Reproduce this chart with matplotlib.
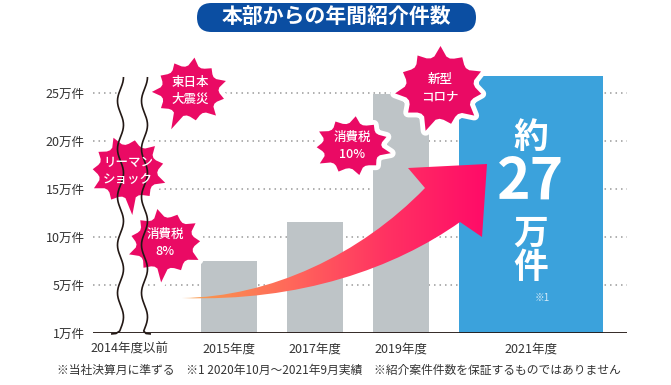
import numpy as np
import matplotlib
matplotlib.use("Agg")
import matplotlib.pyplot as plt
from matplotlib.patches import FancyBboxPatch, Polygon, PathPatch
from matplotlib.path import Path
from matplotlib.colors import LinearSegmentedColormap

plt.rcParams['font.family'] = ['Noto Sans CJK JP', 'DejaVu Sans']

# values in 万件
years = ["2015年度", "2017年度", "2019年度"]
counts = [7.5, 11.6, 24.9]
year_2021 = "2021年度"
count_2021 = 26.8
before_label = "2014年度以前"
ytick_vals = [0, 5, 10, 15, 20, 25]
ytick_labels = ["1万件", "5万件", "10万件", "15万件", "20万件", "25万件"]
events = ["東日本\n大震災", "リーマン\nショック", "消費税\n8%", "消費税\n10%", "新型\nコロナ"]
title = "本部からの年間紹介件数"
note = "※当社決算月に準ずる　※1 2020年10月〜2021年9月実績　※紹介案件件数を保証するものではありません"

GRAY = "#bec4c7"
BLUE = "#3ba2dc"
PINK = "#ea0a64"
NAVY = "#0b4ea2"
INK = "#231815"

W, H = 671, 385
fig = plt.figure(figsize=(W / 100, H / 100), dpi=100)

# main chart axes (pixel frame 93..627 x 45..333)
ax = fig.add_axes([93 / W, 1 - 333 / H, 534 / W, 288 / H])
ax.set_xlim(-0.581, 5.628)
ax.set_ylim(0, 30)
for s in ax.spines.values():
    s.set_visible(False)

ax.hlines(ytick_vals[1:], -0.581, 5.628, colors="#9a9a9a",
          linestyles=(0, (1, 2.6)), lw=1.1, zorder=0)
ax.bar([1, 2, 3], counts, width=0.65, color=GRAY, zorder=1)
ax.bar(4.51, count_2021, width=1.67, color=BLUE, zorder=1)
ax.axhline(0, color=INK, lw=1.3, zorder=2)

ax.set_yticks(ytick_vals, ytick_labels)
ax.set_xticks([-0.151, 1, 2, 3, 4.51], [before_label] + years + [year_2021])
ax.tick_params(axis="y", length=0, pad=6, labelsize=9, labelcolor="#333333")
ax.tick_params(axis="x", length=0, pad=7, labelsize=9, labelcolor="#333333")

# big label in the 2021 bar
ax.text(4.51, 20.4, "約", ha="center", va="center", fontsize=25,
        fontweight="bold", color="white", zorder=3)
ax.text(4.51, 15.7, "27", ha="center", va="center", fontsize=41,
        fontweight="bold", color="white", zorder=3)
ax.text(4.51, 10.4, "万", ha="center", va="center", fontsize=25,
        fontweight="bold", color="white", zorder=3)
ax.text(4.51, 6.8, "件", ha="center", va="center", fontsize=25,
        fontweight="bold", color="white", zorder=3)
ax.text(4.64, 3.6, "※1", ha="center", va="center", fontsize=7,
        color="#d6ebf8", zorder=3)

# overlay in pixel units for the decorations
ov = fig.add_axes([0, 0, 1, 1])
ov.patch.set_alpha(0)
ov.axis("off")

# title pill
ov.add_patch(FancyBboxPatch((197, 3), 279, 29,
                            boxstyle="round,pad=0,rounding_size=14.5",
                            fc=NAVY, ec="none"))
ov.text(336.5, 17.5, title, ha="center", va="center", fontsize=15,
        fontweight="bold", color="white")

# broken-axis wavy lines
yy = np.linspace(77, 331, 300)
xl = 120.5 + 3 * np.cos(2 * np.pi * (yy - 77) / 48)
xr = xl + 24
ov.fill_betweenx(yy, xl - 0.5, xr + 0.5, color="white", lw=0)
ov.plot(np.r_[xl, 116, 111], np.r_[yy, 333.5, 334], color=INK, lw=1.2,
        solid_capstyle="butt")
ov.plot(np.r_[xr, 146, 151], np.r_[yy, 333.5, 334], color=INK, lw=1.2,
        solid_capstyle="butt")

# growth arrow with gradient
verts = [(182, 298), (270, 297), (360, 255), (425, 188),
         (408, 168), (487, 164), (482, 237), (460, 222),
         (395, 268), (300, 302), (182, 298), (182, 298)]
codes = [Path.MOVETO, Path.CURVE4, Path.CURVE4, Path.CURVE4,
         Path.LINETO, Path.LINETO, Path.LINETO, Path.LINETO,
         Path.CURVE4, Path.CURVE4, Path.CURVE4, Path.CLOSEPOLY]
arrow = PathPatch(Path(verts, codes), fc="none", ec="none")
ov.add_patch(arrow)
cmap = LinearSegmentedColormap.from_list(
    "grow", ["#f8a04c", "#ff6b5a", "#ff3262", "#ff0a68"])
grad = np.linspace(0, 1, 256).reshape(1, -1)
im = ov.imshow(grad, extent=(182, 488, 303, 160), cmap=cmap,
               aspect="auto", interpolation="bicubic")
im.set_clip_path(arrow)


# event bursts
def burst(cx, cy, rx, ry, tail_deg, tail_k, n=11):
    jit = [1.0, 0.93, 1.04, 0.95, 1.02, 0.92, 1.05, 0.96, 0.93, 1.03, 0.95]
    pts = []
    ph = np.radians(tail_deg)
    for i in range(n):
        a = ph + 2 * np.pi * i / n
        k = tail_k if i == 0 else jit[i % len(jit)]
        pts.append((cx + rx * k * np.cos(a), cy - ry * k * np.sin(a)))
        for f, r in ((0.3, 0.8), (0.5, 0.77), (0.7, 0.8)):
            b = a + 2 * np.pi * f / n
            pts.append((cx + rx * r * np.cos(b), cy - ry * r * np.sin(b)))
    return pts


burst_layout = [
    (190, 91, 37, 32, -113, 1.3),
    (128, 171, 38, 34, -85, 1.3),
    (165, 243, 37, 33, -95, 1.2),
    (352, 146, 38, 29, 150, 1.0),
    (440, 88, 44, 40, -107, 1.12),
]
for label, (cx, cy, rx, ry, td, tk) in zip(events, burst_layout):
    pts = burst(cx, cy, rx, ry, td, tk)
    ov.add_patch(Polygon(pts, closed=True, fc="white", ec="white", lw=7,
                         joinstyle="round"))
    ov.add_patch(Polygon(pts, closed=True, fc=PINK, ec="none"))
    ov.text(cx, cy, label, ha="center", va="center", fontsize=9,
            fontweight="medium", color="white", linespacing=1.45)

ov.text(339, 370, note, ha="center", va="center", fontsize=8.5,
        color="#333333")

ov.set_xlim(0, W)
ov.set_ylim(H, 0)

fig.savefig("out.png", dpi=100)
